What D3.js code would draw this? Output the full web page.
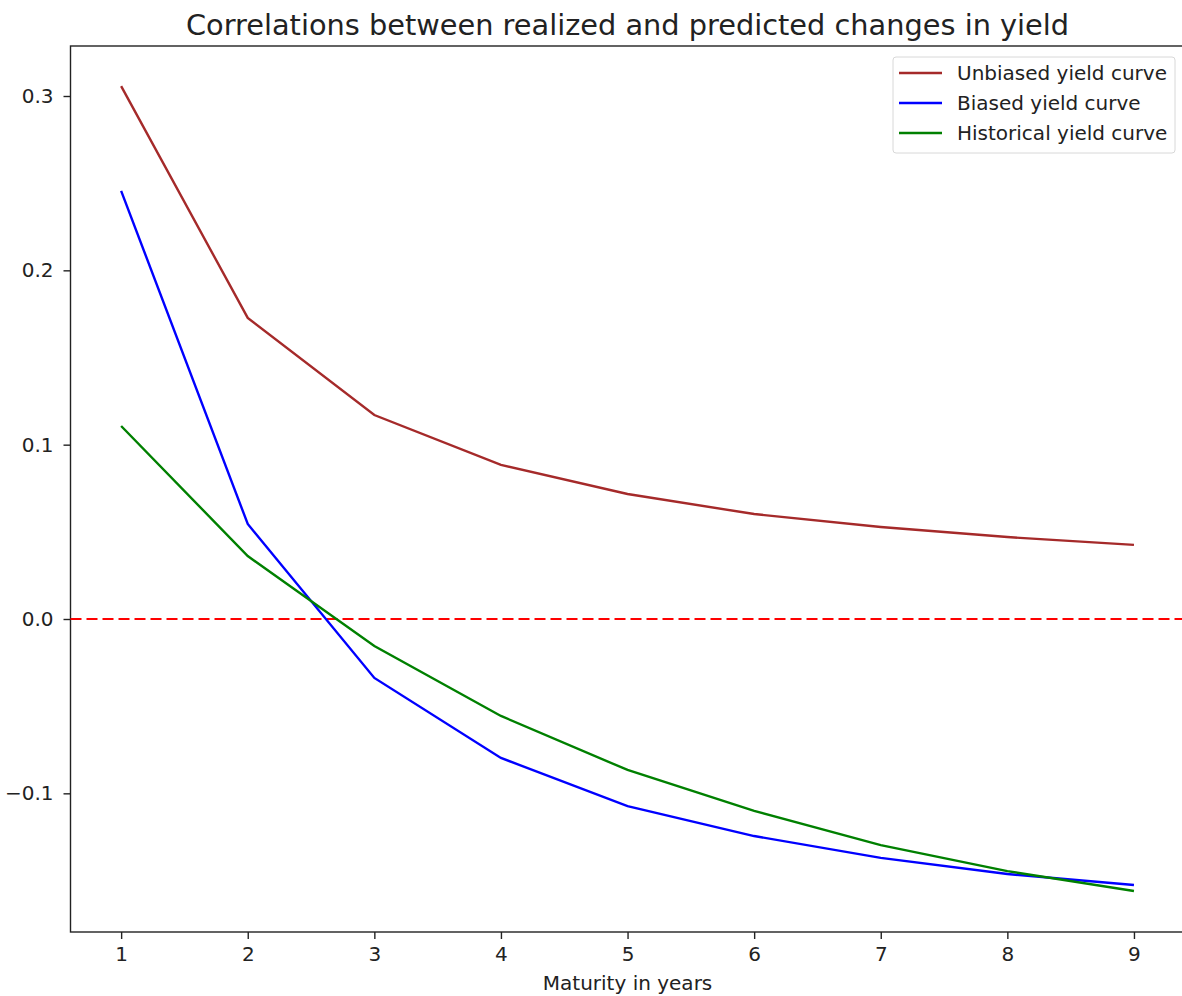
<!DOCTYPE html>
<html>
<head>
<meta charset="utf-8">
<script src="https://cdn.jsdelivr.net/npm/d3@7"></script>
<style>
  body { margin: 0; background: #fff; }
  svg text { font-family: "DejaVu Sans", sans-serif; fill: #222; }
</style>
</head>
<body>
<div id="chart"></div>
<script>
// data
const maturities = [1, 2, 3, 4, 5, 6, 7, 8, 9];
const unbiased = [0.3057, 0.1727, 0.117, 0.0884, 0.0717, 0.0602, 0.0528, 0.047, 0.0425];
const biased = [0.2456, 0.0545, -0.0338, -0.0797, -0.1073, -0.1245, -0.137, -0.1463, -0.1526];
const historical = [0.1107, 0.0361, -0.0155, -0.0556, -0.0866, -0.1101, -0.1297, -0.1446, -0.156];
const seriesNames = ["Unbiased yield curve", "Biased yield curve", "Historical yield curve"];
const seriesColors = ["#a52a2a", "#0000ff", "#008000"];
const yTicks = [-0.1, 0.0, 0.1, 0.2, 0.3];

const width = 1182, height = 996;
const margin = { top: 46, left: 70.5, bottom: 932 };
const axRight = 1184.6;

const svg = d3.select("#chart").append("svg")
  .attr("width", width).attr("height", height);

const x = d3.scaleLinear().domain([0.6, 9.4]).range([margin.left, axRight]);
const y = d3.scaleLinear().domain([0, 0.3]).range([619, 96]);

// axes
const xAxis = svg.append("g")
  .attr("transform", `translate(0,${margin.bottom})`)
  .call(d3.axisBottom(x).tickValues(maturities).tickSize(7).tickPadding(8).tickFormat(d3.format("d")));
const yAxis = svg.append("g")
  .attr("transform", `translate(${margin.left},0)`)
  .call(d3.axisLeft(y).tickValues(yTicks).tickSize(7).tickPadding(10)
    .tickFormat(d => d < 0 ? "\u2212" + Math.abs(d).toFixed(1) : d.toFixed(1)));

[xAxis, yAxis].forEach(g => {
  g.select(".domain").remove();
  g.selectAll(".tick line").attr("stroke", "#222").attr("stroke-width", 1.4);
  g.selectAll(".tick text").style("font-size", "20px").attr("fill", "#222");
});

// spines
svg.append("rect")
  .attr("x", margin.left).attr("y", margin.top)
  .attr("width", axRight - margin.left).attr("height", margin.bottom - margin.top)
  .attr("fill", "none").attr("stroke", "#222").attr("stroke-width", 1.4);

// zero line
svg.append("line")
  .attr("x1", margin.left).attr("x2", axRight)
  .attr("y1", y(0)).attr("y2", y(0))
  .attr("stroke", "#ff0000").attr("stroke-width", 2.2)
  .attr("stroke-dasharray", "11,5");

const line = d3.line().x((d, i) => x(maturities[i])).y(d => y(d));
[unbiased, biased, historical].forEach((s, i) => {
  svg.append("path")
    .datum(s)
    .attr("d", line)
    .attr("fill", "none")
    .attr("stroke", seriesColors[i])
    .attr("stroke-width", 2.4);
});

// title & label
svg.append("text")
  .attr("x", (margin.left + axRight) / 2).attr("y", 35)
  .attr("text-anchor", "middle")
  .style("font-size", "28.8px")
  .text("Correlations between realized and predicted changes in yield");

svg.append("text")
  .attr("x", (margin.left + axRight) / 2).attr("y", 990)
  .attr("text-anchor", "middle")
  .style("font-size", "20px")
  .text("Maturity in years");

// legend
const legend = svg.append("g").attr("transform", "translate(893,57)");
legend.append("rect")
  .attr("width", 282).attr("height", 96).attr("rx", 3)
  .attr("fill", "#fff").attr("stroke", "#d8d8d8");
seriesNames.forEach((name, i) => {
  const yy = 16 + i * 30;
  legend.append("line")
    .attr("x1", 6).attr("x2", 49).attr("y1", yy).attr("y2", yy)
    .attr("stroke", seriesColors[i]).attr("stroke-width", 2.4);
  legend.append("text")
    .attr("x", 64).attr("y", yy + 7)
    .style("font-size", "20px")
    .text(name);
});
</script>
</body>
</html>
